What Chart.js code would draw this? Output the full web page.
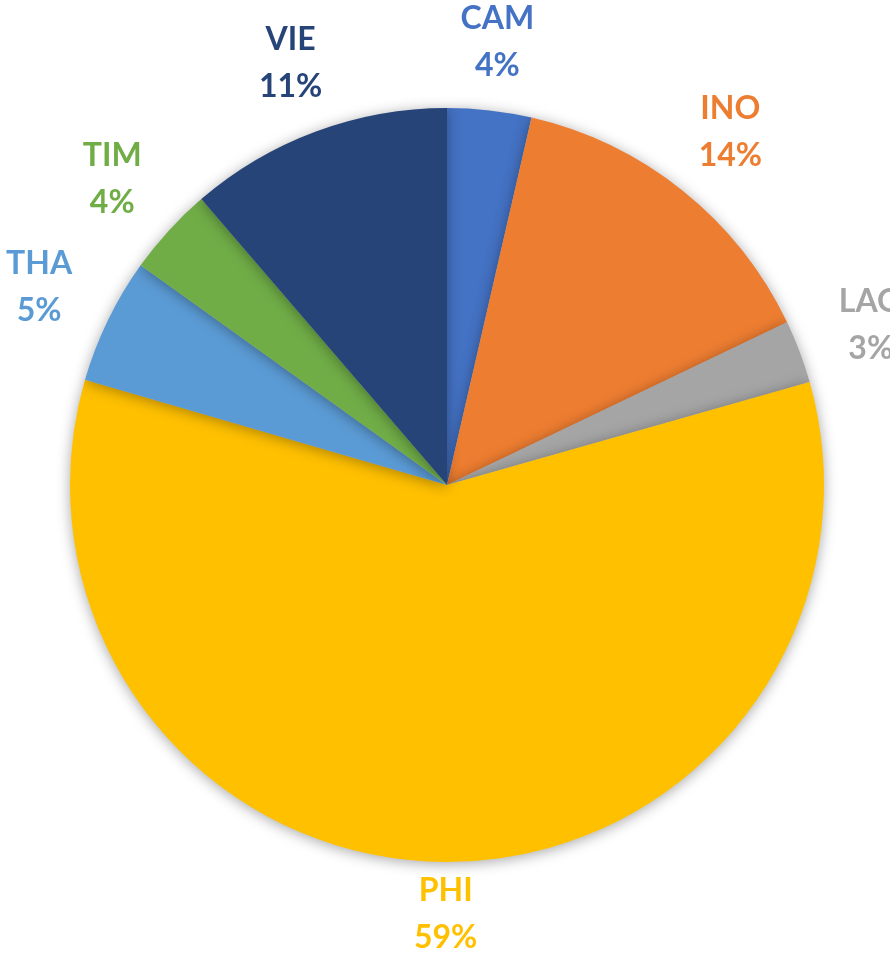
<!DOCTYPE html>
<html>
<head>
<meta charset="utf-8">
<script src="https://cdn.jsdelivr.net/npm/chart.js@4.4.1/dist/chart.umd.min.js"></script>
<style>
  html, body { margin: 0; padding: 0; background: #fff; overflow: hidden; }
  #wrap { width: 890px; height: 955px; }
</style>
</head>
<body>
<div id="wrap"><canvas id="pie" width="890" height="955"></canvas></div>
<script>
// parts du camembert (sens horaire depuis midi)
const pays    = ['CAM', 'INO', 'LAO', 'PHI', 'THA', 'TIM', 'VIE'];
const parts   = [3.6, 14.3, 2.7, 58.9, 5.4, 3.8, 11.3];
const couleurs = ['#4472C4', '#ED7D31', '#A5A5A5', '#FFC000', '#5B9BD5', '#70AD47', '#264478'];

// ombre douce autour du disque
const ombre = {
    id: 'ombre',
    beforeDatasetsDraw(chart) {
        const ctx = chart.ctx;
        ctx.save();
        ctx.shadowColor = 'rgba(0,0,0,0.35)';
        ctx.shadowBlur = 14;
        ctx.shadowOffsetY = 2;
    },
    afterDatasetsDraw(chart) {
        chart.ctx.restore();
    }
};

// étiquettes "PAYS / xx%" hors du disque, couleur de la part
const etiquettes = {
    id: 'etiquettes',
    afterDatasetsDraw(chart) {
        const ctx = chart.ctx;
        const meta = chart.getDatasetMeta(0);
        const total = parts.reduce((a, b) => a + b, 0);
        ctx.save();
        ctx.font = 'bold 32px Lato';
        ctx.textAlign = 'center';
        ctx.textBaseline = 'middle';
        meta.data.forEach((arc, i) => {
            const p = arc.getProps(['x', 'y', 'startAngle', 'endAngle', 'outerRadius'], true);
            const mid = (p.startAngle + p.endAngle) / 2;
            const t = mid + Math.PI / 2; // angle depuis midi
            const up = Math.cos(t), side = Math.abs(Math.sin(t));
            const d = p.outerRadius + 52 + 20 * side + 15 * Math.max(up, 0);
            const x = p.x + Math.cos(mid) * d;
            const y = p.y + Math.sin(mid) * d;
            ctx.fillStyle = couleurs[i];
            ctx.fillText(pays[i], x, y - 23);
            ctx.fillText(Math.round(parts[i] / total * 100) + '%', x, y + 24);
        });
        ctx.restore();
    }
};

new Chart(document.getElementById('pie').getContext('2d'), {
    type: 'pie',
    data: {
        labels: pays,
        datasets: [{
            data: parts,
            backgroundColor: couleurs,
            borderWidth: 0,
        }]
    },
    options: {
        responsive: false,
        animation: false,
        layout: { padding: { top: 108, bottom: 93, left: 70, right: 66 } },
        plugins: { legend: { display: false }, tooltip: { enabled: false } }
    },
    plugins: [ombre, etiquettes]
});
</script>
</body>
</html>
